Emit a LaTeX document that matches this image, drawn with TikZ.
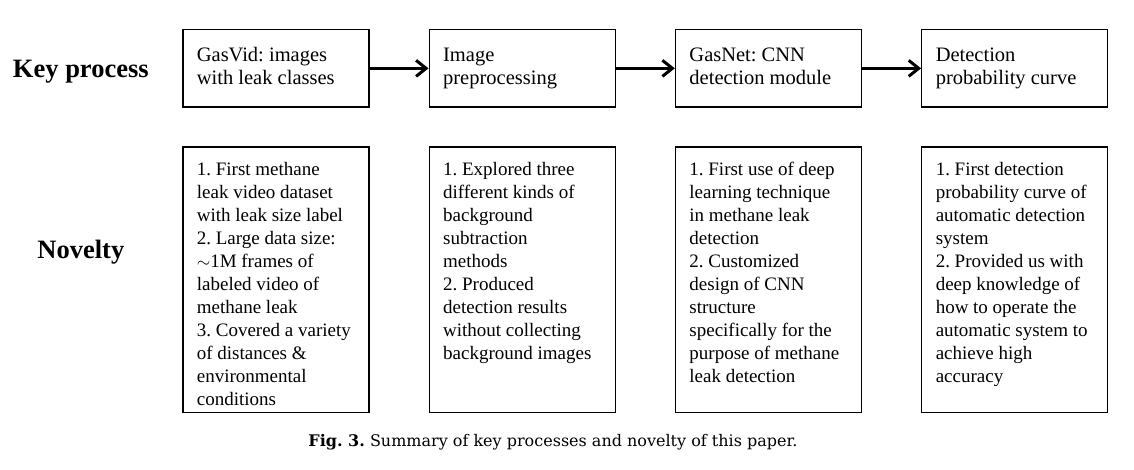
\documentclass[tikz,border=0pt]{standalone}
\usepackage{fontspec}
\setmainfont{Liberation Serif}
\newfontfamily\capfont{DejaVu Serif}
\frenchspacing
\usetikzlibrary{matrix,arrows,arrows.meta,positioning}
\newcommand{\keytext}[1]{\parbox{158pt}{\raggedright\strut #1\strut}}
\newcommand{\novtext}[1]{\parbox[c][235pt][t]{158pt}{\raggedright #1}}
\tikzset{
  keybox/.style={draw, line width=1.3pt, inner xsep=14pt, inner ysep=0pt, minimum height=77pt, font=\fontsize{20.5}{23}\selectfont},
  novbox/.style={draw, line width=1.3pt, inner xsep=14pt, inner ysep=15pt, font=\fontsize{19}{23}\selectfont},
  lbl/.style={font=\bfseries\fontsize{26.5}{30}\selectfont}
}

\begin{document}
\begin{tikzpicture}[>={Straight Barb[length=10pt, width=16pt]}]
  \useasboundingbox (0,0) rectangle (1134pt,-470pt);
  \matrix (m) at (182pt,-29pt) [matrix of nodes, anchor=north west, inner sep=0pt, row sep=39pt, column sep=59pt, nodes={anchor=center}, row 1/.style={nodes={keybox}}, row 2/.style={nodes={novbox}}]
  {
\keytext{GasVid: images\\ with leak classes} & \keytext{Image\\ preprocessing} & \keytext{GasNet: CNN\\ detection module} & \keytext{Detection\\ probability curve} \\
\novtext{1. First methane\\ leak video dataset\\ with leak size label\\ 2. Large data size:\\ $\sim$1M frames of\\ labeled video of\\ methane leak\\ 3. Covered a variety\\ of distances \&\\ environmental\\ conditions} &
\novtext{1. Explored three\\ different kinds of\\ background\\ subtraction\\ methods\\ 2. Produced\\ detection results\\ without collecting\\ background images} &
\novtext{1. First use of deep\\ learning technique\\ in methane leak\\ detection\\ 2. Customized\\ design of CNN\\ structure\\ specifically for the\\ purpose of methane\\ leak detection} &
\novtext{1. First detection\\ probability curve of\\ automatic detection\\ system\\ 2. Provided us with\\ deep knowledge of\\ how to operate the\\ automatic system to\\ achieve high\\ accuracy} \\
};
  \path[->, line width=3pt]
  (m-1-1) edge (m-1-2)
  (m-1-2) edge (m-1-3)
  (m-1-3) edge (m-1-4)
  ;
  \node[lbl, left=30pt of m-1-1, yshift=-3pt] (kp) {Key process};
  \node[lbl, anchor=base] (nov) at ([yshift=20.8pt]kp.base |- m-2-1) {Novelty};
  \node[font=\capfont\fontsize{16}{19}\selectfont, anchor=base] (cap) at (553pt,-446pt) {\textbf{Fig. 3.} Summary of key processes and novelty of this paper.};
\end{tikzpicture}
\end{document}
